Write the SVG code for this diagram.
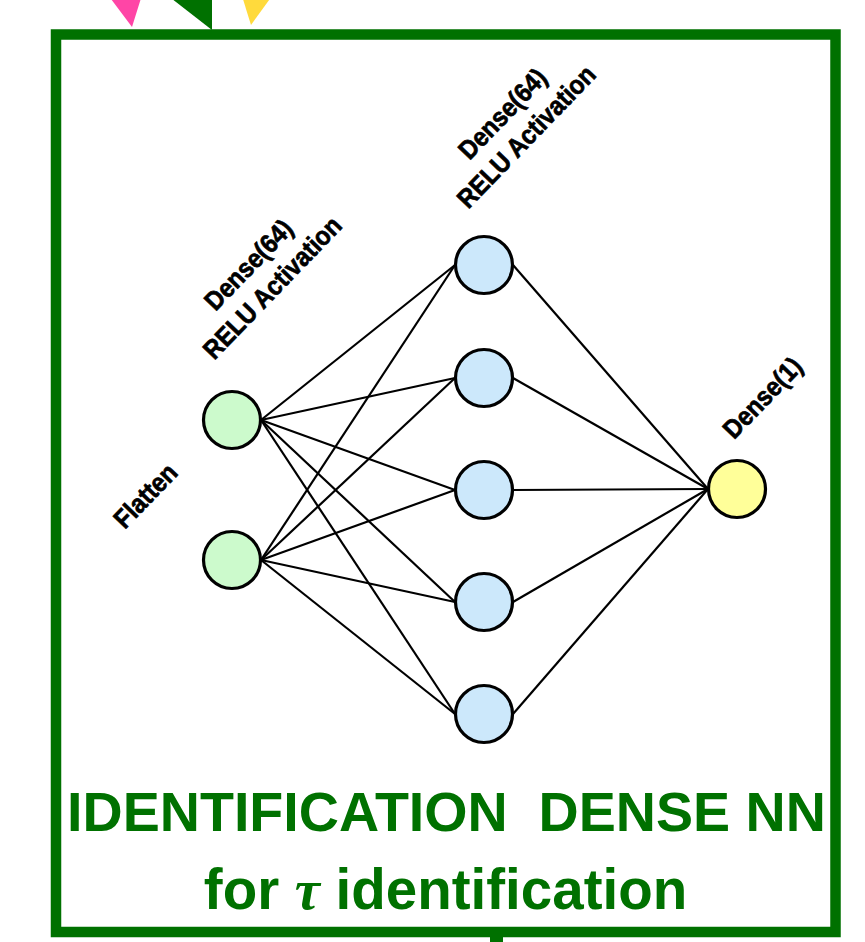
<svg xmlns="http://www.w3.org/2000/svg" width="865" height="942" viewBox="0 0 865 942">
<style>
.lbl{font-family:"Liberation Sans",Arial,sans-serif;font-weight:bold;font-size:26.5px;fill:#000;stroke:#000;stroke-width:0.7;text-anchor:middle}
.ttl{font-family:"Liberation Sans",Arial,sans-serif;font-weight:bold;fill:#007100;text-anchor:middle;white-space:pre}
.conn line{stroke:#000;stroke-width:2.2}
.node circle{stroke:#000;stroke-width:3.2}
.in{fill:#ccfacc}
.hid{fill:#cce8fb}
.out{fill:#ffff99}
</style>
<rect width="865" height="942" fill="#fff"/>
<g id="arrowheads">
<polygon points="108,-5 142,-5 132,27" fill="#ff45a6"/>
<polygon points="167,-5 212,-5 212,30" fill="#007100"/>
<polygon points="242,-4 272,-4 251,25" fill="#ffda3c"/>
</g>
<g id="frame">
<rect x="56" y="34.5" width="779.5" height="897.5" fill="none" stroke="#007100" stroke-width="10.5"/>
<rect x="490" y="932" width="13" height="10" fill="#007100"/>
</g>
<g id="connectors" class="conn">
<line x1="261" y1="420" x2="455" y2="265"/>
<line x1="261" y1="420" x2="455" y2="378"/>
<line x1="261" y1="420" x2="455" y2="490"/>
<line x1="261" y1="420" x2="455" y2="602"/>
<line x1="261" y1="420" x2="455" y2="714"/>
<line x1="261" y1="560" x2="455" y2="265"/>
<line x1="261" y1="560" x2="455" y2="378"/>
<line x1="261" y1="560" x2="455" y2="490"/>
<line x1="261" y1="560" x2="455" y2="602"/>
<line x1="261" y1="560" x2="455" y2="714"/>
<line x1="513" y1="265" x2="708" y2="489"/>
<line x1="513" y1="378" x2="708" y2="489"/>
<line x1="513" y1="490" x2="708" y2="489"/>
<line x1="513" y1="602" x2="708" y2="489"/>
<line x1="513" y1="714" x2="708" y2="489"/>
</g>
<g id="in1" class="node"><circle class="in" cx="232" cy="420" r="28.5"/></g>
<g id="in2" class="node"><circle class="in" cx="232" cy="560" r="28.5"/></g>
<g id="h1" class="node"><circle class="hid" cx="484" cy="265" r="28.5"/></g>
<g id="h2" class="node"><circle class="hid" cx="484" cy="378" r="28.5"/></g>
<g id="h3" class="node"><circle class="hid" cx="484" cy="490" r="28.5"/></g>
<g id="h4" class="node"><circle class="hid" cx="484" cy="602" r="28.5"/></g>
<g id="h5" class="node"><circle class="hid" cx="484" cy="714" r="28.5"/></g>
<g id="out" class="node"><circle class="out" cx="737" cy="489" r="28.5"/></g>
<g id="labels">
<text class="lbl" transform="translate(152,502) rotate(-46) scale(0.9,1)">Flatten</text>
<text class="lbl" transform="translate(255,271) rotate(-46) scale(0.9,1)"><tspan x="0" y="0">Dense(64)</tspan><tspan x="0" y="33">RELU Activation</tspan></text>
<text class="lbl" transform="translate(509,120) rotate(-46) scale(0.9,1)"><tspan x="0" y="0">Dense(64)</tspan><tspan x="0" y="33">RELU Activation</tspan></text>
<text class="lbl" transform="translate(769,404) rotate(-46) scale(0.9,1)">Dense(1)</text>
</g>
<g id="title">
<text class="ttl" x="446.5" y="831" font-size="55.6">IDENTIFICATION  DENSE NN</text>
<text class="ttl" x="445.5" y="909" font-size="56.5">for <tspan font-family="'Liberation Serif',serif" font-style="italic">τ</tspan> identification</text>
</g>
</svg>
